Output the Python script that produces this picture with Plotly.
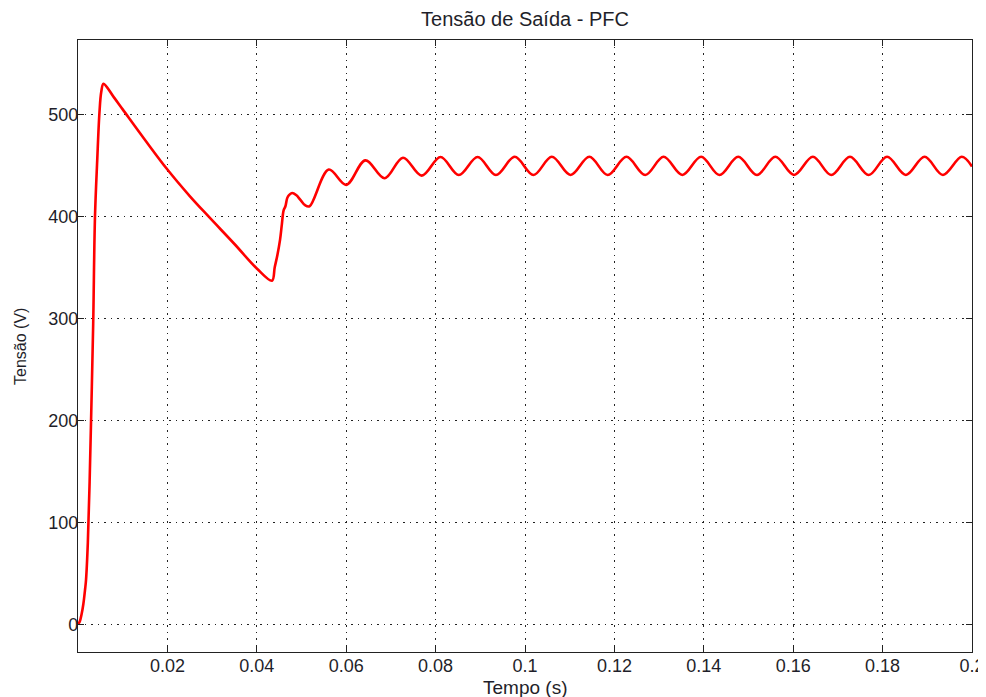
import plotly.graph_objects as go

# Time (s) and output voltage (V)
tempo = [
    0.0, 0.0004, 0.0008, 0.0012, 0.0016, 0.0018, 0.0022, 0.0026, 0.0030, 0.0034,
    0.0038, 0.0043, 0.0048, 0.0052, 0.0057,
    0.0080, 0.0100, 0.0150, 0.0200, 0.0250, 0.0292, 0.0350, 0.0400, 0.0434,
    0.0440, 0.0446, 0.0452, 0.0456, 0.0460, 0.0464, 0.0468, 0.0472, 0.0479,
    0.0488, 0.0498, 0.0508, 0.0518,
    0.0561, 0.0600, 0.0643, 0.0686, 0.0727, 0.0769,
    0.0811, 0.0852, 0.0894, 0.0935, 0.0977, 0.1019, 0.1060, 0.1102, 0.1144,
    0.1185, 0.1227, 0.1269, 0.1310, 0.1352, 0.1394, 0.1435, 0.1477, 0.1519,
    0.1560, 0.1602, 0.1644, 0.1685, 0.1727, 0.1769, 0.1810, 0.1852, 0.1894,
    0.1935, 0.1977, 0.2000,
]
tensao = [
    0, 3, 10, 20, 35, 44, 80, 140, 215, 295,
    400, 455, 502, 522, 530,
    517, 505, 475, 446, 420, 400, 373, 349, 337,
    350, 362, 377, 392, 406, 410, 418, 421, 423,
    421, 416, 411, 410,
    446, 431, 455, 437.5, 457.6, 440,
    458.3, 440.7, 458.3, 440.7, 458.5, 440.7, 458.5, 440.7, 458.5,
    440.7, 458.5, 440.7, 458.5, 440.7, 458.5, 440.7, 458.5, 440.7,
    458.5, 440.7, 458.5, 440.7, 458.5, 440.7, 458.5, 440.7, 458.5,
    440.7, 458.5, 449,
]

x_ticks = [0.02, 0.04, 0.06, 0.08, 0.1, 0.12, 0.14, 0.16, 0.18, 0.2]
x_labels = ["0.02", "0.04", "0.06", "0.08", "0.1", "0.12", "0.14", "0.16", "0.18", "0.2"]
y_ticks = [0, 100, 200, 300, 400, 500]
y_labels = ["0", "100", "200", "300", "400", "500"]

fig = go.Figure()
fig.add_trace(go.Scatter(
    x=tempo, y=tensao, mode="lines",
    line=dict(color="#ff0000", width=2.6, shape="spline", smoothing=1.0),
    showlegend=False,
))

font_family = "Liberation Sans, Arial, Helvetica, sans-serif"
txt_color = "#1f1f2a"
grid_dash = "1.5px,5px"

# The page adds an 8px body margin, so the figure is sized to fit inside it.
fig.update_layout(
    width=978, height=689,
    margin=dict(l=70, r=14, t=32, b=45),
    paper_bgcolor="white", plot_bgcolor="white",
    font=dict(family=font_family, color=txt_color, size=16),
    title=dict(text="Tensão de Saída - PFC", x=0.5, xref="paper",
               y=1 - 11 / 689, yref="container", yanchor="middle",
               font=dict(size=20, color=txt_color)),
    annotations=[
        dict(text="Tempo (s)", xref="paper", yref="paper", x=0.5, y=-0.0588,
             xanchor="center", yanchor="middle", showarrow=False,
             font=dict(size=19, color=txt_color)),
        dict(text="Tensão (V)", xref="paper", yref="paper", x=-0.0649, y=0.5,
             xanchor="center", yanchor="middle", showarrow=False, textangle=-90,
             font=dict(size=16, color=txt_color)),
    ],
)
fig.update_xaxes(
    range=[0, 0.2], tickvals=x_ticks, ticktext=x_labels,
    showline=True, linecolor="#222222", linewidth=1.2, mirror="ticks",
    ticks="inside", ticklen=6, tickcolor="#222222",
    showgrid=True, gridcolor="#222222", gridwidth=1, griddash=grid_dash,
    zeroline=False, automargin=False,
    tickfont=dict(size=18), ticklabelstandoff=-3,
)
fig.update_yaxes(
    range=[-27, 573], tickvals=y_ticks, ticktext=y_labels,
    showline=True, linecolor="#222222", linewidth=1.2, mirror="ticks",
    ticks="inside", ticklen=6, tickcolor="#222222",
    showgrid=True, gridcolor="#222222", gridwidth=1, griddash=grid_dash,
    zeroline=False, automargin=False,
    tickfont=dict(size=18), ticklabelstandoff=-5,
)

fig.write_html("out.html")
